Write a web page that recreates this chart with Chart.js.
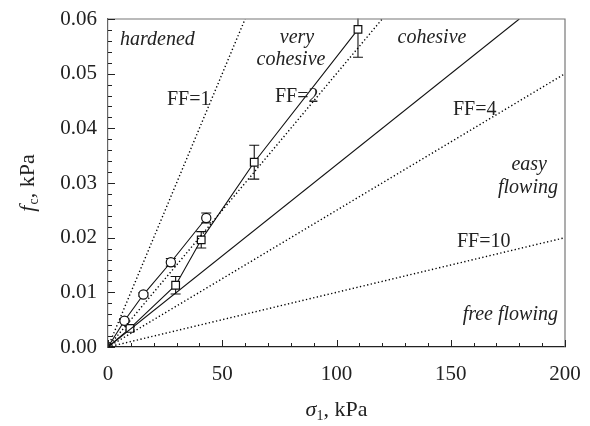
<!DOCTYPE html>
<html>
<head>
<meta charset="utf-8">
<script src="https://cdn.jsdelivr.net/npm/chart.js@4"></script>
<style>
  html, body { margin: 0; padding: 0; background: #fff; }
  #wrap { width: 590px; height: 426px; position: relative; }
</style>
</head>
<body>
<div id="wrap"><canvas id="c" width="590" height="426"></canvas></div>
<script>
// ---- data ----
const xTicks = [0, 50, 100, 150, 200];
const yTicks = [0.00, 0.01, 0.02, 0.03, 0.04, 0.05, 0.06];

const circleX   = [0, 7.2, 15.5, 27.5, 43.0];
const circleY   = [0, 0.0048, 0.0096, 0.0155, 0.0236];
const circleErr = [0, 0.0003, 0.0003, 0.0007, 0.0009];

const squareX   = [0, 9.6, 29.6, 40.8, 64.0, 109.4];
const squareY   = [0, 0.0034, 0.0113, 0.0196, 0.0338, 0.0581];
const squareErr = [0, 0.0003, 0.0016, 0.0015, 0.0031, 0.0051];

// flow-function boundary lines (start / end points)
const ff1Line  = [[0, 0], [60, 0.06]];
const ff2Line  = [[0, 0], [120, 0.06]];
const ff4Line  = [[0, 0], [200, 0.05]];
const ff10Line = [[0, 0], [200, 0.02]];
const fitLine  = [[0, 0], [180, 0.06]];

const regionLabels = [
  { text: 'hardened', x: 120, y: 40, italic: true, align: 'left' },
  { text: 'very', x: 297, y: 38, italic: true, align: 'center' },
  { text: 'cohesive', x: 291, y: 60, italic: true, align: 'center' },
  { text: 'cohesive', x: 432, y: 38, italic: true, align: 'center' },
  { text: 'easy', x: 547, y: 165, italic: true, align: 'right' },
  { text: 'flowing', x: 558, y: 188, italic: true, align: 'right' },
  { text: 'free flowing', x: 558, y: 315, italic: true, align: 'right' },
  { text: 'FF=1', x: 167, y: 100, italic: false, align: 'left' },
  { text: 'FF=2', x: 275, y: 97, italic: false, align: 'left' },
  { text: 'FF=4', x: 453, y: 110, italic: false, align: 'left' },
  { text: 'FF=10', x: 457, y: 242, italic: false, align: 'left' }
];

const SERIF = '"Liberation Serif", "Times New Roman", serif';
const toPts = (xs, ys) => xs.map((x, i) => ({ x: x, y: ys[i] }));
const segPts = seg => seg.map(p => ({ x: p[0], y: p[1] }));

function dottedDs(seg) {
  return { type: 'line', data: segPts(seg), borderColor: '#000', borderWidth: 1.4,
           borderDash: [1.3, 2.4], pointRadius: 0, fill: false, tension: 0 };
}

const errorBarsPlugin = {
  id: 'errbars',
  beforeDatasetsDraw(chart) {
    const ctx = chart.ctx, xs = chart.scales.x, ys = chart.scales.y, a = chart.chartArea;
    ctx.save();
    ctx.beginPath(); ctx.rect(a.left, a.top - 0.5, a.right - a.left, a.bottom - a.top + 1); ctx.clip();
    ctx.strokeStyle = '#111'; ctx.lineWidth = 1.1;
    const draw = (X, Y, E) => {
      X.forEach((x, i) => {
        if (!E[i]) return;
        const px = xs.getPixelForValue(x);
        const p1 = ys.getPixelForValue(Y[i] + E[i]);
        const p2 = ys.getPixelForValue(Y[i] - E[i]);
        ctx.beginPath();
        ctx.moveTo(px, p1); ctx.lineTo(px, p2);
        ctx.moveTo(px - 5, p1); ctx.lineTo(px + 5, p1);
        ctx.moveTo(px - 5, p2); ctx.lineTo(px + 5, p2);
        ctx.stroke();
      });
    };
    draw(circleX, circleY, circleErr);
    draw(squareX, squareY, squareErr);
    ctx.restore();
  }
};

const decorPlugin = {
  id: 'decor',
  afterDraw(chart) {
    const ctx = chart.ctx, xs = chart.scales.x, ys = chart.scales.y, a = chart.chartArea;
    ctx.save();
    // frame top / right
    ctx.strokeStyle = '#777'; ctx.lineWidth = 1.2;
    ctx.beginPath();
    ctx.moveTo(a.left, a.top); ctx.lineTo(a.right, a.top); ctx.lineTo(a.right, a.bottom);
    ctx.stroke();
    // inward ticks
    ctx.strokeStyle = '#222'; ctx.lineWidth = 1;
    ctx.beginPath();
    for (let v = 0; v <= 200.001; v += 10) {
      const px = Math.round(xs.getPixelForValue(v)) + 0.5;
      const len = (Math.round(v) % 50 === 0) ? 7 : 4;
      ctx.moveTo(px, a.bottom); ctx.lineTo(px, a.bottom - len);
    }
    for (let k = 0; k <= 30; k++) {
      const v = k * 0.002;
      const py = Math.round(ys.getPixelForValue(v)) + 0.5;
      const len = (k % 5 === 0) ? 7 : 4;
      ctx.moveTo(a.left, py); ctx.lineTo(a.left + len, py);
    }
    ctx.stroke();

    // region labels
    ctx.fillStyle = '#222';
    ctx.textBaseline = 'middle';
    regionLabels.forEach(l => {
      ctx.font = (l.italic ? 'italic ' : '') + '20px ' + SERIF;
      ctx.textAlign = l.align;
      ctx.fillText(l.text, l.x, l.y);
    });

    // axis titles with subscripts
    ctx.textAlign = 'left';
    ctx.textBaseline = 'alphabetic';
    const big = '22px ' + SERIF, bigI = 'italic 22px ' + SERIF, small = '14px ' + SERIF;
    // x title: sigma_1, kPa
    ctx.font = bigI; const wS = ctx.measureText('σ').width;
    ctx.font = small; const w1 = ctx.measureText('1').width;
    ctx.font = big; const wR = ctx.measureText(', kPa').width;
    let x0 = (a.left + a.right) / 2 - (wS + w1 + wR) / 2;
    const yb = 416;
    ctx.font = bigI; ctx.fillText('σ', x0, yb);
    ctx.font = small; ctx.fillText('1', x0 + wS, yb + 4);
    ctx.font = big; ctx.fillText(', kPa', x0 + wS + w1, yb);
    // y title: f_c, kPa (rotated)
    ctx.font = bigI; const wF = ctx.measureText('f').width + 1;
    ctx.font = small; const wC = ctx.measureText('c').width;
    ctx.font = big; const wR2 = ctx.measureText(', kPa').width;
    ctx.translate(34, (a.top + a.bottom) / 2);
    ctx.rotate(-Math.PI / 2);
    let s0 = -(wF + wC + wR2) / 2;
    ctx.font = bigI; ctx.fillText('f', s0, 0);
    ctx.font = small; ctx.fillText('c', s0 + wF, 4);
    ctx.font = big; ctx.fillText(', kPa', s0 + wF + wC, 0);
    ctx.restore();
  }
};

new Chart(document.getElementById('c'), {
  type: 'scatter',
  data: {
    datasets: [
      dottedDs(ff1Line), dottedDs(ff2Line), dottedDs(ff4Line), dottedDs(ff10Line),
      { type: 'line', data: segPts(fitLine), borderColor: '#111', borderWidth: 1.1,
        pointRadius: 0, fill: false, tension: 0 },
      { type: 'line', data: toPts(circleX, circleY), borderColor: '#111', borderWidth: 1.1,
        pointStyle: 'circle', pointRadius: circleX.map((x, i) => i === 0 ? 0 : 4.6),
        pointBackgroundColor: '#fff', pointBorderColor: '#111', pointBorderWidth: 1.2,
        fill: false, tension: 0 },
      { type: 'line', data: toPts(squareX, squareY), borderColor: '#111', borderWidth: 1.1,
        pointStyle: 'rect', pointRadius: squareX.map((x, i) => i === 0 ? 0 : 5.4),
        pointBackgroundColor: '#fff', pointBorderColor: '#111', pointBorderWidth: 1.2,
        fill: false, tension: 0 }
    ]
  },
  options: {
    responsive: false,
    animation: false,
    layout: { padding: { left: 0, top: 19, right: 25, bottom: 0 } },
    plugins: { legend: { display: false }, tooltip: { enabled: false } },
    scales: {
      x: {
        type: 'linear', min: 0, max: 200,
        afterFit: s => { s.height = 79; s.paddingLeft = 0; s.paddingRight = 0; },
        afterBuildTicks: s => { s.ticks = xTicks.map(v => ({ value: v })); },
        grid: { display: false, drawTicks: false },
        border: { display: true, color: '#222', width: 1.3 },
        ticks: { color: '#222', padding: 15, font: { family: SERIF, size: 21 },
                 callback: v => String(v) }
      },
      y: {
        type: 'linear', min: 0, max: 0.06,
        afterFit: s => { s.width = 108; s.paddingTop = 0; s.paddingBottom = 0; },
        afterBuildTicks: s => { s.ticks = yTicks.map(v => ({ value: v })); },
        grid: { display: false, drawTicks: false },
        border: { display: true, color: '#666', width: 1.2 },
        ticks: { color: '#222', padding: 11, font: { family: SERIF, size: 21 },
                 callback: v => Number(v).toFixed(2) }
      }
    }
  },
  plugins: [errorBarsPlugin, decorPlugin]
});
</script>
</body>
</html>
